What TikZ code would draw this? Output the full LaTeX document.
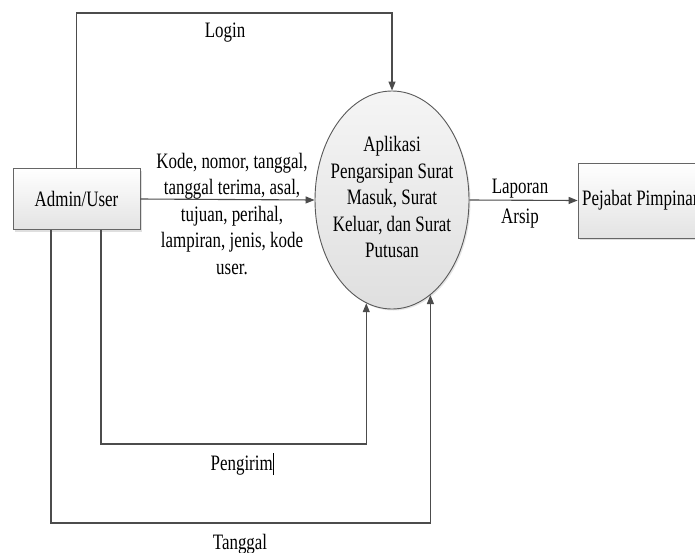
\documentclass[tikz,border=0pt]{standalone}
\usepackage{fontspec}
\setmainfont[FakeStretch=0.77]{Liberation Serif}
\usetikzlibrary{arrows.meta,shapes.geometric,shadows}
\begin{document}
\begin{tikzpicture}[x=1pt,y=-1pt,
  every node/.style={font=\fontsize{22}{26.5}\selectfont, text=black},
  flow/.style={draw=black!70, line width=1.1pt, -{Triangle[length=9pt,width=7pt]}},
  entity/.style={rectangle, draw=black!60, line width=0.8pt, top color=white, bottom color=gray!22,
     drop shadow={shadow xshift=2pt, shadow yshift=-2pt, opacity=0.25}},
  proc/.style={ellipse, draw=black!65, line width=0.9pt, top color=gray!8, bottom color=gray!25,
     minimum width=154pt, minimum height=218pt, inner sep=0pt, align=center,
     drop shadow={shadow xshift=1.5pt, shadow yshift=-1.5pt, opacity=0.2}},
  lbl/.style={align=center, inner sep=1pt}
]
\useasboundingbox (0,0) rectangle (695,552);
\clip (0,0) rectangle (695,552);
\fill[white] (0,0) rectangle (695,552);

\node[entity, minimum width=127pt, minimum height=61pt] (admin) at (76.5,199) {Admin/User};
\node[proc] (app) at (392,200) {};
\node[lbl] (appt) at (392,197) {Aplikasi\\Pengarsipan Surat\\Masuk, Surat\\Keluar, dan Surat\\Putusan};
\node[entity, minimum width=140pt, minimum height=75pt] (pej) at (648,200.5) {};
\node[anchor=west, inner sep=0pt] (pejt) at (582,200) {Pejabat Pimpinan};

\coordinate (ltop) at (0,13);
\coordinate (pbot) at (0,444);
\coordinate (tbot) at (0,523);

% Login
\draw[flow] (admin.north) -- (admin.north |- ltop) -| (app.north);
\node[lbl] (llogin) at (225,33) {Login};

% data flow
\draw[flow] (admin.east) -- (app.west);
\node[lbl] (ldata) at (232,214) {Kode, nomor, tanggal,\\tanggal terima, asal,\\tujuan, perihal,\\lampiran, jenis, kode\\user.};

% Laporan
\draw[flow] (app.east) -- (pej.west);
\node[lbl, font=\fontsize{22}{30}\selectfont] (llap) at (520,204) {Laporan\\Arsip};

% Pengirim
\coordinate (ps) at ([xshift=24.5pt]admin.south);
\draw[flow] (ps) -- (ps |- pbot) -| (app.-104);
\node[lbl] (lpeng) at (242,464) {Pengirim\rule[-5pt]{0.6pt}{22pt}};

% Tanggal
\coordinate (ts) at ([xshift=-25.5pt]admin.south);
\draw[flow] (ts) -- (ts |- tbot) -| (app.-68);
\node[lbl] (ltgl) at (240,544) {Tanggal};
\end{tikzpicture}
\end{document}
